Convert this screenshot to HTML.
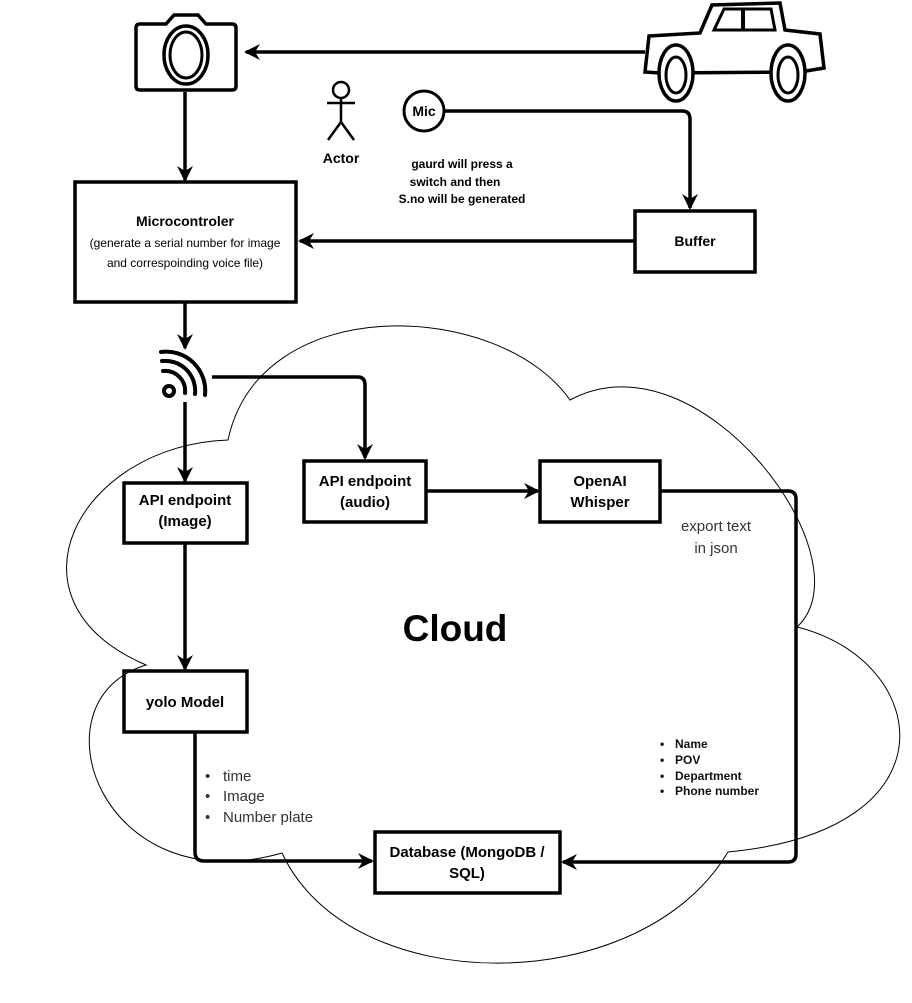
<!DOCTYPE html>
<html><head><meta charset="utf-8"><style>
body{margin:0;background:#fff;}
svg{display:block;font-family:"Liberation Sans",Arial,sans-serif;}
</style></head><body>
<svg width="912" height="1003" viewBox="0 0 912 1003" xmlns="http://www.w3.org/2000/svg">
<defs>
<marker id="b" markerWidth="16" markerHeight="16" refX="14" refY="8" orient="auto" markerUnits="userSpaceOnUse" viewBox="0 0 16 16">
<path d="M0,0 L16,8 L0,16 L5,8 Z" fill="#000"/></marker>
</defs>
<!-- cloud -->
<path d="M228,440 C80,445 -5,600 146,665 C30,700 100,905 282,853 C350,1000 640,1000 728,852 C960,830 930,660 797,627 C870,560 700,330 570,400 C500,300 260,290 228,440 Z" fill="none" stroke="#000" stroke-width="1"/>
<text x="455" y="641" font-size="37" font-weight="bold" text-anchor="middle">Cloud</text>

<!-- camera -->
<g stroke="#000" stroke-width="3.5" fill="none">
<path d="M140,24 H166 L174,15 H198 L206,24 H232 Q236,24 236,28 V86 Q236,90 232,90 H140 Q136,90 136,86 V28 Q136,24 140,24 Z"/>
<ellipse cx="186" cy="55" rx="22" ry="29"/>
<ellipse cx="186" cy="55" rx="16" ry="23" stroke-width="3"/>
</g>
<!-- car -->
<g stroke="#000" stroke-width="3.5" fill="#fff">
<path d="M649,36 L700,33 L712,5 L780,3 L785,30 L820,34 L824,68 L800,72 L660,73 L645,72 Z"/>
<path d="M714,30 L724,9 L771,9 L775,30 Z" fill="none" stroke-width="3"/>
<line x1="743" y1="9" x2="743" y2="30" stroke-width="4"/>
<ellipse cx="676" cy="73" rx="17" ry="28"/>
<ellipse cx="676" cy="75" rx="10" ry="18" stroke-width="3"/>
<ellipse cx="788" cy="73" rx="17" ry="28"/>
<ellipse cx="788" cy="75" rx="10" ry="18" stroke-width="3"/>
</g>
<g stroke="#000" stroke-width="3.5" fill="none">
<line x1="645" y1="52" x2="246" y2="52" marker-end="url(#b)"/>
<line x1="185" y1="92" x2="185" y2="180" marker-end="url(#b)"/>
<!-- actor -->
<g stroke-width="2.5">
<circle cx="341" cy="90" r="8"/>
<line x1="341" y1="98" x2="341" y2="122"/>
<line x1="327" y1="103" x2="355" y2="103"/>
<line x1="341" y1="122" x2="328" y2="140"/>
<line x1="341" y1="122" x2="354" y2="140"/>
</g>
<circle cx="424" cy="111" r="20" stroke-width="3"/>
<path d="M444,111 H682 Q690,111 690,119 V208" marker-end="url(#b)"/>
<rect x="75" y="182" width="221" height="120"/>
<rect x="635" y="211" width="120" height="61"/>
<line x1="635" y1="241" x2="300" y2="241" marker-end="url(#b)"/>
<line x1="185" y1="302" x2="185" y2="348" marker-end="url(#b)"/>
<line x1="185" y1="402" x2="185" y2="481" marker-end="url(#b)"/>
<path d="M212,377 H358 Q365,377 365,385 V458" marker-end="url(#b)"/>
<rect x="124" y="483" width="123" height="60"/>
<rect x="304" y="461" width="122" height="61"/>
<line x1="426" y1="491" x2="538" y2="491" marker-end="url(#b)"/>
<rect x="540" y="461" width="120" height="61"/>
<path d="M660,491 H788 Q796,491 796,499 V854 Q796,862 788,862 H563" marker-end="url(#b)"/>
<line x1="185" y1="543" x2="185" y2="669" marker-end="url(#b)"/>
<rect x="124" y="671" width="123" height="61"/>
<path d="M195,732 V852 Q195,861 204,861 H372" marker-end="url(#b)"/>
<rect x="375" y="832" width="185" height="61"/>
<!-- wifi -->
<g stroke-width="4" stroke-linecap="round">
<circle cx="169" cy="391" r="5"/>
<path d="M163,371 A20,20 0 0 1 185,393"/>
<path d="M162,361 A30,30 0 0 1 195,394"/>
<path d="M161,352 A39,39 0 0 1 205,395"/>
</g>
</g>
<g font-weight="bold" fill="#000" text-anchor="middle">
<text x="424" y="116" font-size="14">Mic</text>
<text x="341" y="163" font-size="14">Actor</text>
<text x="462" y="168" font-size="12">gaurd will press a</text>
<text x="455" y="186" font-size="12">switch and then</text>
<text x="462" y="203" font-size="12">S.no will be generated</text>
<text x="185" y="226" font-size="14">Microcontroler</text>
<text x="695" y="246" font-size="14">Buffer</text>
<text x="185" y="505" font-size="15">API endpoint</text>
<text x="185" y="526" font-size="15">(Image)</text>
<text x="365" y="486" font-size="15">API endpoint</text>
<text x="365" y="507" font-size="15">(audio)</text>
<text x="600" y="486" font-size="15">OpenAI</text>
<text x="600" y="507" font-size="15">Whisper</text>
<text x="185" y="707" font-size="15">yolo Model</text>
<text x="467" y="857" font-size="15">Database (MongoDB /</text>
<text x="467" y="878" font-size="15">SQL)</text>
</g>
<g fill="#000" text-anchor="middle" font-size="12">
<text x="185" y="247">(generate a serial number for image</text>
<text x="185" y="267">and correspoinding voice file)</text>
</g>
<g fill="#333" font-size="15" text-anchor="middle">
<text x="716" y="531">export text</text>
<text x="716" y="553">in json</text>
</g>
<g fill="#333" font-size="15">
<text x="205" y="781">•</text><text x="223" y="781">time</text>
<text x="205" y="801">•</text><text x="223" y="801">Image</text>
<text x="205" y="822">•</text><text x="223" y="822">Number plate</text>
</g>
<g fill="#111" font-size="12" font-weight="bold">
<text x="660" y="748">•</text><text x="675" y="748">Name</text>
<text x="660" y="764">•</text><text x="675" y="764">POV</text>
<text x="660" y="780">•</text><text x="675" y="780">Department</text>
<text x="660" y="795">•</text><text x="675" y="795">Phone number</text>
</g>
</svg>
</body></html>
